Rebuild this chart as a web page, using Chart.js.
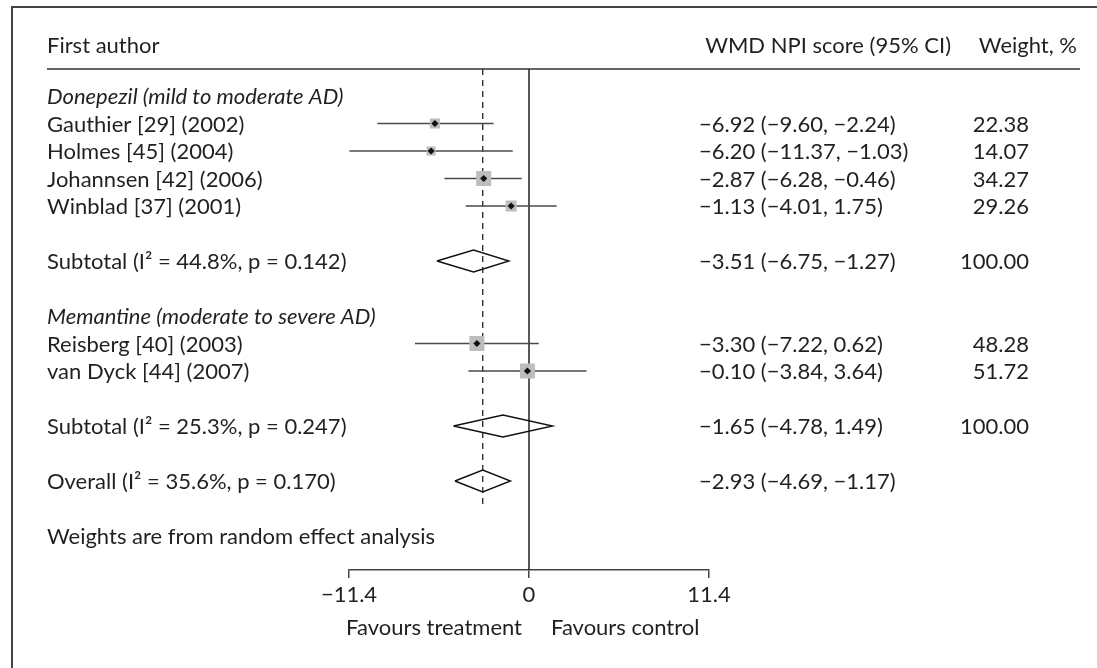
<!DOCTYPE html>
<html>
<head>
<meta charset="utf-8">
<script src="https://cdn.jsdelivr.net/npm/chart.js@4.4.1/dist/chart.umd.min.js"></script>
<style>
  html, body { margin: 0; padding: 0; background: #fff; }
  #wrap { width: 1097px; height: 668px; position: relative; }
</style>
</head>
<body>
<div id="wrap"><canvas id="forest"></canvas></div>
<script>
// Rijen van boven naar onder ('' = lege tussenrij)
const rowLabels = [
    'Donepezil (mild to moderate AD)',
    'Gauthier [29] (2002)',
    'Holmes [45] (2004)',
    'Johannsen [42] (2006)',
    'Winblad [37] (2001)',
    '',
    'Subtotal (I\u00b2 = 44.8%, p = 0.142)',
    '',
    'Memantine (moderate to severe AD)',
    'Reisberg [40] (2003)',
    'van Dyck [44] (2007)',
    '',
    'Subtotal (I\u00b2 = 25.3%, p = 0.247)',
    '',
    'Overall (I\u00b2 = 35.6%, p = 0.170)',
    '',
    'Weights are from random effect analysis'
];
const groupLabels = ['Donepezil (mild to moderate AD)', 'Memantine (moderate to severe AD)'];

// Studies (plotted positions)
const studies = ['Gauthier [29] (2002)', 'Holmes [45] (2004)', 'Johannsen [42] (2006)',
                 'Winblad [37] (2001)', 'Reisberg [40] (2003)', 'van Dyck [44] (2007)'];
const studyEst  = [-5.96, -6.20, -2.87, -1.13, -3.30, -0.10];
const studyLow  = [-9.60, -11.37, -5.36, -4.01, -7.22, -3.84];
const studyHigh = [-2.24, -1.03, -0.46, 1.75, 0.62, 3.64];
const studyText = ['\u22126.92 (\u22129.60, \u22122.24)', '\u22126.20 (\u221211.37, \u22121.03)',
                   '\u22122.87 (\u22126.28, \u22120.46)', '\u22121.13 (\u22124.01, 1.75)',
                   '\u22123.30 (\u22127.22, 0.62)', '\u22120.10 (\u22123.84, 3.64)'];
const studyWeight = ['22.38', '14.07', '34.27', '29.26', '48.28', '51.72'];

// Pooled estimates
const pooled = ['Subtotal (I\u00b2 = 44.8%, p = 0.142)', 'Subtotal (I\u00b2 = 25.3%, p = 0.247)',
                'Overall (I\u00b2 = 35.6%, p = 0.170)'];
const pooledEst  = [-3.51, -1.65, -2.93];
const pooledLow  = [-5.83, -4.78, -4.69];
const pooledHigh = [-1.27, 1.49, -1.17];
const pooledText = ['\u22123.51 (\u22126.75, \u22121.27)', '\u22121.65 (\u22124.78, 1.49)',
                    '\u22122.93 (\u22124.69, \u22121.17)'];
const pooledWeight = ['100.00', '100.00', ''];

// As en teksten
const xTicks = [-11.4, 0, 11.4];
const headers = ['First author', 'WMD NPI score (95% CI)', 'Weight, %'];
const favours = ['Favours treatment', 'Favours control'];

// Stijl
const FONT = 'Lato';
const FS = 22;
const INK = '#231f20';
const boxSide = [10, 9, 15, 11, 15, 15];
const DIAMOND_H = 0.4;
const Y_MIN = -2.764, Y_MAX = 17.236;
const HEADER_ROW = -1.85, RULE_ROW = -0.98;

const rowOf = label => rowLabels.indexOf(label);
const fmt = v => (v < 0 ? '\u2212' : '') + Math.abs(v);

const ciSets = studies.map((s, i) => ({
    type: 'line',
    data: [{ x: studyLow[i], y: rowOf(s) }, { x: studyHigh[i], y: rowOf(s) }],
    borderColor: '#4a4a4a',
    borderWidth: 1.6,
    pointRadius: 0,
    clip: false
}));

const diamondSets = pooled.map((p, i) => {
    const r = rowOf(p);
    return {
        type: 'line',
        data: [
            { x: pooledLow[i], y: r },
            { x: pooledEst[i], y: r - DIAMOND_H },
            { x: pooledHigh[i], y: r },
            { x: pooledEst[i], y: r + DIAMOND_H },
            { x: pooledLow[i], y: r }
        ],
        borderColor: '#111',
        borderWidth: 1.4,
        borderJoinStyle: 'miter',
        tension: 0,
        fill: false,
        pointRadius: 0,
        clip: false
    };
});

const overallRow = rowOf(pooled[2]);

const datasets = [
    {
        type: 'scatter',
        data: studies.map((s, i) => ({ x: studyEst[i], y: rowOf(s) })),
        pointStyle: 'rectRot',
        pointRadius: 3.6,
        backgroundColor: '#111',
        borderWidth: 0,
        clip: false
    },
    {
        type: 'scatter',
        data: studies.map((s, i) => ({ x: studyEst[i], y: rowOf(s) })),
        pointStyle: 'rect',
        pointRadius: ctx => boxSide[ctx.dataIndex] / Math.SQRT2,
        backgroundColor: '#bdbdbd',
        borderWidth: 0,
        clip: false
    },
    ...ciSets,
    ...diamondSets,
    {
        // stippellijn bij het overall effect
        type: 'line',
        data: [{ x: pooledEst[2], y: RULE_ROW }, { x: pooledEst[2], y: overallRow + 1 }],
        borderColor: '#222',
        borderWidth: 1.3,
        borderDash: [6, 5],
        pointRadius: 0,
        clip: false
    },
    {
        // lijn van geen effect
        type: 'line',
        data: [{ x: 0, y: RULE_ROW }, { x: 0, y: Y_MAX }],
        borderColor: '#222',
        borderWidth: 1.5,
        pointRadius: 0,
        clip: false
    }
];

const forestText = {
    id: 'forestText',
    beforeDraw(chart) {
        const ctx = chart.ctx;
        const y = chart.scales.y;
        ctx.save();
        // kader links en boven
        ctx.strokeStyle = '#444';
        ctx.lineWidth = 2;
        ctx.beginPath();
        ctx.moveTo(12, 668);
        ctx.lineTo(12, 7);
        ctx.lineTo(1097, 7);
        ctx.stroke();
        // lijn onder de kop
        ctx.strokeStyle = '#666';
        ctx.lineWidth = 2;
        ctx.beginPath();
        ctx.moveTo(47, y.getPixelForValue(RULE_ROW));
        ctx.lineTo(1080, y.getPixelForValue(RULE_ROW));
        ctx.stroke();
        ctx.restore();
    },
    afterDraw(chart) {
        const ctx = chart.ctx;
        const x = chart.scales.x;
        const y = chart.scales.y;
        const base = 8;
        ctx.save();
        ctx.fillStyle = INK;
        ctx.textBaseline = 'alphabetic';

        const hy = y.getPixelForValue(HEADER_ROW) + base;
        ctx.font = `${FS}px ${FONT}`;
        ctx.textAlign = 'left';
        ctx.fillText(headers[0], 47, hy);
        ctx.textAlign = 'right';
        ctx.fillText(headers[1], 951, hy);
        ctx.fillText(headers[2], 1077, hy);

        rowLabels.forEach((label, r) => {
            if (!label) return;
            ctx.font = (groupLabels.includes(label) ? 'italic ' : '') + `${FS}px ${FONT}`;
            ctx.textAlign = 'left';
            ctx.fillText(label, 47, y.getPixelForValue(r) + base);
        });

        ctx.font = `${FS}px ${FONT}`;
        const putRow = (label, txt, w) => {
            const py = y.getPixelForValue(rowOf(label)) + base;
            ctx.textAlign = 'left';
            ctx.fillText(txt, 699, py);
            ctx.textAlign = 'right';
            ctx.fillText(w, 1029, py);
        };
        studies.forEach((s, i) => putRow(s, studyText[i], studyWeight[i]));
        pooled.forEach((p, i) => putRow(p, pooledText[i], pooledWeight[i]));

        const zx = x.getPixelForValue(0);
        const fy = chart.chartArea.bottom + 65;
        ctx.textAlign = 'right';
        ctx.fillText(favours[0], zx - 7, fy);
        ctx.textAlign = 'left';
        ctx.fillText(favours[1], zx + 22, fy);
        ctx.restore();
    }
};

new Chart(document.getElementById('forest'), {
    type: 'scatter',
    data: { datasets },
    options: {
        responsive: true,
        maintainAspectRatio: false,
        animation: false,
        events: [],
        layout: { padding: { left: 349, right: 388, top: 20, bottom: 58 } },
        plugins: {
            legend: { display: false },
            tooltip: { enabled: false }
        },
        scales: {
            x: {
                type: 'linear',
                position: 'bottom',
                min: -11.4,
                max: 11.4,
                afterBuildTicks: scale => { scale.ticks = xTicks.map(v => ({ value: v })); },
                afterFit: scale => { scale.height = 40; },
                border: { display: true, color: '#444', width: 1.5 },
                grid: { display: true, drawOnChartArea: false, drawTicks: true, tickLength: 8, color: '#444', lineWidth: 1.5 },
                ticks: {
                    autoSkip: false,
                    maxRotation: 0,
                    padding: 4,
                    color: INK,
                    font: { family: FONT, size: FS },
                    callback: v => fmt(v)
                }
            },
            y: {
                type: 'linear',
                reverse: true,
                min: Y_MIN,
                max: Y_MAX,
                display: false
            }
        }
    },
    plugins: [forestText]
});
</script>
</body>
</html>
